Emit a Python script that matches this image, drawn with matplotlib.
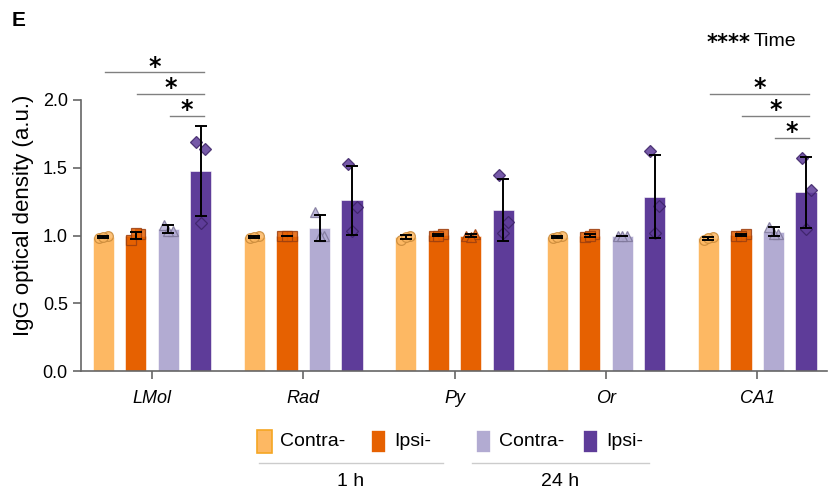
import numpy as np
import matplotlib
matplotlib.use('Agg')
import matplotlib.pyplot as plt
from matplotlib.patches import Rectangle
from matplotlib.lines import Line2D

plt.rcParams['font.family'] = ['Liberation Sans', 'DejaVu Sans']

# brain regions on the x axis
regions = ['LMol', 'Rad', 'Py', 'Or', 'CA1']

# three animals per bar
contra_1h = [[0.98, 1.00, 0.99], [0.98, 1.00, 0.99], [0.97, 1.00, 0.99], [0.98, 1.00, 0.99], [0.97, 0.99, 0.98]]
ipsi_1h = [[0.97, 1.01, 1.02], [1.00, 1.00, 1.00], [1.00, 1.01, 1.00], [0.99, 1.01, 1.00], [1.00, 1.01, 1.00]]
contra_24h = [[1.08, 1.03, 1.03], [1.17, 1.00, 1.00], [1.00, 1.01, 0.99], [1.00, 1.00, 1.00], [1.065, 1.01, 1.01]]
ipsi_24h = [[1.69, 1.64, 1.09], [1.53, 1.21, 1.035], [1.446, 1.10, 1.02], [1.62, 1.22, 1.02], [1.574, 1.336, 1.048]]

series_labels = ['Contra-', 'Ipsi-', 'Contra-', 'Ipsi-']
time_labels = ['1 h', '24 h']

# significance brackets: (region index, from bar, to bar, label)
sig_pairs = [(0, 0, 3, '*'), (0, 1, 3, '*'), (0, 2, 3, '*'),
             (4, 0, 3, '*'), (4, 1, 3, '*'), (4, 2, 3, '*')]

c_lo = '#fdb863'
c_io = '#e66101'
c_lp = '#b2abd2'
c_dp = '#5e3c99'
bar_colors = [c_lo, c_io, c_lp, c_dp]
# the Py panel has its third bar drawn in orange in the original figure
bar_color_override = {(2, 2): c_io}
edge_colors = ['#c98a3a', '#9c3f10', '#7d7699', '#3c2366']
markers = ['o', 's', '^', 'D']

fig = plt.figure(figsize=(8.29, 4.95), dpi=100)
ax = fig.add_axes([81/829, 124/495, 746/829, 2.3*135.5/495])

offsets = [-0.3225, -0.1075, 0.1075, 0.3225]
width = 0.14
jitter = [-0.03, 0.03, 0.0]
all_series = [contra_1h, ipsi_1h, contra_24h, ipsi_24h]
x = np.arange(len(regions))

for s, data in enumerate(all_series):
    arr = np.array(data)
    means = arr.mean(axis=1)
    sds = arr.std(axis=1, ddof=1)
    xs = x + offsets[s]
    cols = [bar_color_override.get((g, s), bar_colors[s]) for g in range(len(regions))]
    ax.bar(xs, means, width=width, color=cols, edgecolor='white', linewidth=0.4, zorder=2)
    for g in range(len(regions)):
        for k, v in enumerate(arr[g]):
            ax.plot(xs[g] + jitter[k], v, marker=markers[s], ms=7 if s != 3 else 6.5,
                    mfc=cols[g], mec=edge_colors[s] if cols[g] == bar_colors[s] else edge_colors[1],
                    mew=0.9, alpha=0.85, zorder=3, ls='none')
    ax.errorbar(xs, means, yerr=sds, fmt='none', ecolor='black', elinewidth=1.4,
                capsize=4.5, capthick=1.4, zorder=4)

# significance lines
line_levels = [2.204, 2.044, 1.884]
ca1_levels = [2.044, 1.882, 1.72]
for i, (g, a, b, lab) in enumerate(sig_pairs):
    lv = (line_levels if g == 0 else ca1_levels)[i % 3]
    x0 = g + offsets[a] + 0.01
    x1 = g + offsets[b] + 0.02
    ax.plot([x0, x1], [lv, lv], color='#808080', lw=1.0, zorder=1, clip_on=False)
    ax.text((x0 + x1) / 2, lv - 0.01, lab, ha='center', va='baseline',
            fontsize=17, fontweight='bold', family='DejaVu Sans')

ax.set_xlim(-0.469, 4.461)
ax.set_ylim(0, 2.3)
ax.set_yticks([0, 0.5, 1.0, 1.5, 2.0])
ax.set_yticklabels(['0.0', '0.5', '1.0', '1.5', '2.0'])
ax.set_xticks(x)
ax.set_xticklabels(regions, fontstyle='italic')
ax.tick_params(axis='both', labelsize=13, color='#666666', length=6, width=1.2)
ax.tick_params(axis='x', pad=8)
ax.set_ylabel('IgG optical density (a.u.)', fontsize=16, labelpad=6)
for sp in ['top', 'right']:
    ax.spines[sp].set_visible(False)
for sp in ['left', 'bottom']:
    ax.spines[sp].set_color('#666666')
    ax.spines[sp].set_linewidth(1.2)
ax.spines['left'].set_bounds(0, 2.0)

# legend below the plot, grouped by time point
W, H = 829, 495
patch_x = [257, 371, 476, 583]
for i, px in enumerate(patch_x):
    ec = '#f5a623' if i == 0 else 'white'
    fig.add_artist(Rectangle((px / W, (H - 453) / H), 15 / W, 23 / H,
                             facecolor=bar_colors[i], edgecolor=ec, lw=1.2))
    fig.text((px + 23) / W, (H - 441) / H, series_labels[i], fontsize=14, va='center')
for (l0, l1), lab in zip([(259, 443), (472, 649)], time_labels):
    fig.add_artist(Line2D([l0 / W, l1 / W], [(H - 463) / H] * 2, color='#cccccc', lw=1.0))
    fig.text((l0 + l1) / 2 / W, (H - 481) / H, lab, fontsize=14, ha='center', va='center')

fig.text(12 / W, (H - 21) / H, 'E', fontsize=15, fontweight='bold', va='center')
fig.text(707 / W, (H - 49) / H, '****', fontsize=15, fontweight='bold', va='baseline',
         family='DejaVu Sans')
fig.text(754 / W, (H - 41) / H, 'Time', fontsize=14, va='center')

fig.savefig('out.png', dpi=100)
